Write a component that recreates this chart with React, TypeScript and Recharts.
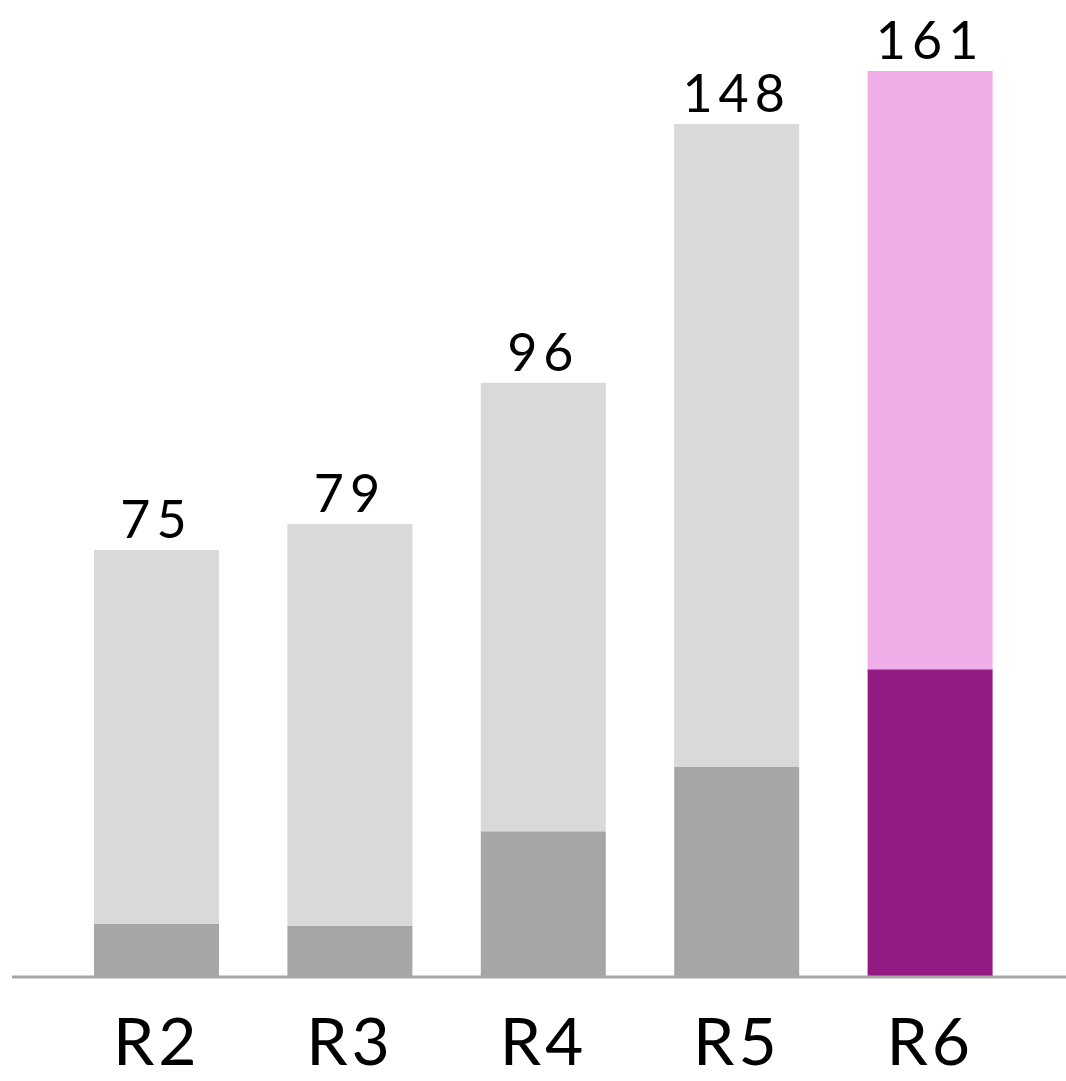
import { BarChart, Bar, XAxis, YAxis, Cell, LabelList } from 'recharts';

// rounds shown on the x axis
const rounds = ['R2', 'R3', 'R4', 'R5', 'R6'];
// lower (darker) segment of each bar
const baseValues = [9.4, 9.1, 25.9, 37.3, 54.7];
// upper (lighter) segment of each bar
const topValues = [66.5, 71.4, 79.7, 114.3, 106.3];
// totals printed above the bars
const totalLabels = [75, 79, 96, 148, 161];

const highlight = 'R6';

const colors = {
  base: '#a6a6a6',
  top: '#d9d9d9',
  baseHighlight: '#921a82',
  topHighlight: '#f0aee8',
  axis: '#a6a6a6',
};

const chartData = rounds.map((round, i) => ({
  round,
  base: baseValues[i],
  top: topValues[i],
  total: totalLabels[i],
}));

export default function App() {
  return (
    <div style={{ position: 'absolute', left: 0, top: 0, width: 1066, height: 1081, background: '#fff' }}>
      <BarChart
        width={1066}
        height={1081}
        data={chartData}
        margin={{ top: 71, right: 0, bottom: 0, left: 12 }}
        style={{ fontFamily: 'Lato, sans-serif' }}
      >
        <XAxis
          dataKey="round"
          height={104}
          padding={{ left: 48, right: 39 }}
          tickLine={false}
          axisLine={{ stroke: colors.axis, strokeWidth: 3 }}
          tickMargin={35}
          tick={{ fontSize: 66, fill: '#000', letterSpacing: 4 }}
          interval={0}
        />
        <YAxis hide domain={[0, 161]} />
        <Bar dataKey="base" stackId="a" barSize={125} isAnimationActive={false}>
          {chartData.map((d) => (
            <Cell key={d.round} fill={d.round === highlight ? colors.baseHighlight : colors.base} />
          ))}
        </Bar>
        <Bar dataKey="top" stackId="a" barSize={125} isAnimationActive={false}>
          {chartData.map((d) => (
            <Cell key={d.round} fill={d.round === highlight ? colors.topHighlight : colors.top} />
          ))}
          <LabelList dataKey="total" position="top" offset={12} fill="#000" fontSize={52} letterSpacing={6} />
        </Bar>
      </BarChart>
    </div>
  );
}
